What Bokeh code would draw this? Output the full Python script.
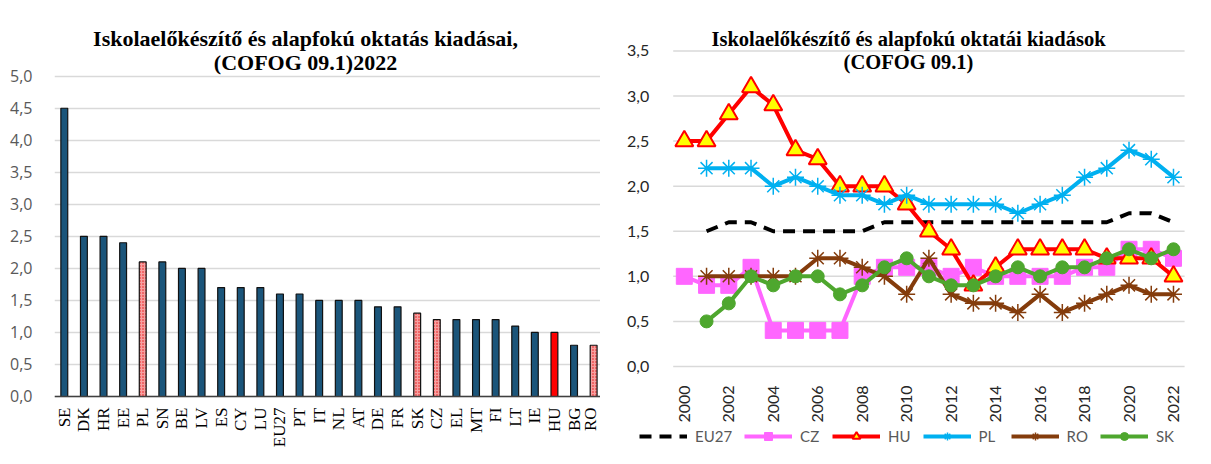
import math
from bokeh.plotting import figure
from bokeh.layouts import row
from bokeh.models import (ColumnDataSource, Range1d, FixedTicker, CustomJSTickFormatter,
                          Label, Legend, LegendItem)
from bokeh.embed import file_html
from bokeh.resources import INLINE

nan = float("nan")

# ---------------- data: left chart (2022) ----------------
countries = ["SE", "DK", "HR", "EE", "PL", "SN", "BE", "LV", "ES", "CY", "LU", "EU27", "PT", "IT",
             "NL", "AT", "DE", "FR", "SK", "CZ", "EL", "MT", "FI", "LT", "IE", "HU", "BG", "RO"]
spending_2022 = [4.5, 2.5, 2.5, 2.4, 2.1, 2.1, 2.0, 2.0, 1.7, 1.7, 1.7, 1.6, 1.6, 1.5,
                 1.5, 1.5, 1.4, 1.4, 1.3, 1.2, 1.2, 1.2, 1.2, 1.1, 1.0, 1.0, 0.8, 0.8]
patterned = ["PL", "SK", "CZ", "RO"]
highlighted = ["HU"]
left_ticks = [0.0, 0.5, 1.0, 1.5, 2.0, 2.5, 3.0, 3.5, 4.0, 4.5, 5.0]

# ---------------- data: right chart (time series) ----------------
years = list(range(2000, 2023))
eu27 = [nan, 1.5, 1.6, 1.6, 1.5, 1.5, 1.5, 1.5, 1.5, 1.6, 1.6, 1.6, 1.6, 1.6, 1.6, 1.6, 1.6, 1.6, 1.6, 1.6, 1.7, 1.7, 1.6]
cz = [1.0, 0.9, 0.9, 1.1, 0.4, 0.4, 0.4, 0.4, 1.0, 1.1, 1.1, 1.1, 1.0, 1.1, 1.0, 1.0, 1.0, 1.0, 1.1, 1.1, 1.3, 1.3, 1.2]
hu = [2.5, 2.5, 2.8, 3.1, 2.9, 2.4, 2.3, 2.0, 2.0, 2.0, 1.8, 1.5, 1.3, 0.9, 1.1, 1.3, 1.3, 1.3, 1.3, 1.2, 1.2, 1.2, 1.0]
pl = [nan, 2.2, 2.2, 2.2, 2.0, 2.1, 2.0, 1.9, 1.9, 1.8, 1.9, 1.8, 1.8, 1.8, 1.8, 1.7, 1.8, 1.9, 2.1, 2.2, 2.4, 2.3, 2.1]
ro = [nan, 1.0, 1.0, 1.0, 1.0, 1.0, 1.2, 1.2, 1.1, 1.0, 0.8, 1.2, 0.8, 0.7, 0.7, 0.6, 0.8, 0.6, 0.7, 0.8, 0.9, 0.8, 0.8]
sk = [nan, 0.5, 0.7, 1.0, 0.9, 1.0, 1.0, 0.8, 0.9, 1.1, 1.2, 1.0, 0.9, 0.9, 1.0, 1.1, 1.0, 1.1, 1.1, 1.2, 1.3, 1.2, 1.3]
year_ticks = list(range(2000, 2023, 2))
right_ticks = [0.0, 0.5, 1.0, 1.5, 2.0, 2.5, 3.0, 3.5]

comma_fmt = CustomJSTickFormatter(code="return tick.toFixed(1).replace('.', ',');")
H = 448

# ================= LEFT FIGURE =================
# frame spans the full height; x axis is pinned at y = 0
p1 = figure(width=600, height=H, output_backend="svg", toolbar_location=None,
            x_range=Range1d(-0.5, 27.35), y_range=Range1d(-0.812, 6.182),
            min_border_left=54, min_border_right=0, min_border_top=0, min_border_bottom=0)
p1.outline_line_color = None
p1.background_fill_color = "white"
p1.border_fill_color = "white"

idx = list(range(len(countries)))
plain_x = [i for i, c in zip(idx, countries) if c not in patterned and c not in highlighted]
plain_y = [v for v, c in zip(spending_2022, countries) if c not in patterned and c not in highlighted]
pat_x = [i for i, c in zip(idx, countries) if c in patterned]
pat_y = [v for v, c in zip(spending_2022, countries) if c in patterned]
hi_x = [i for i, c in zip(idx, countries) if c in highlighted]
hi_y = [v for v, c in zip(spending_2022, countries) if c in highlighted]

p1.vbar(x=plain_x, top=plain_y, width=0.35, fill_color="#1B557A", line_color="#111111", line_width=1.2)
p1.vbar(x=pat_x, top=pat_y, width=0.35, fill_color="#F6A0A0", line_color="#111111", line_width=1.2,
        hatch_pattern="dot", hatch_color="#E81010", hatch_scale=3, hatch_weight=1.5)
p1.vbar(x=hi_x, top=hi_y, width=0.35, fill_color="#FF0000", line_color="#111111", line_width=1.2)

p1.xaxis.fixed_location = 0
p1.xaxis.ticker = FixedTicker(ticks=idx)
p1.xaxis.major_label_overrides = {i: c for i, c in zip(idx, countries)}
p1.xaxis.major_label_orientation = math.pi / 2
p1.xaxis.major_label_text_font = "Liberation Serif"
p1.xaxis.major_label_text_font_size = "17px"
p1.xaxis.major_label_text_color = "#000000"
p1.xaxis.major_tick_line_color = None
p1.xaxis.minor_tick_line_color = None
p1.xaxis.axis_line_color = "#404040"
p1.xaxis.axis_line_width = 1.5
p1.xaxis.major_label_standoff = 5
p1.xgrid.grid_line_color = None

p1.yaxis.ticker = FixedTicker(ticks=left_ticks)
p1.yaxis.formatter = comma_fmt
p1.yaxis.axis_line_color = None
p1.yaxis.major_tick_line_color = None
p1.yaxis.minor_tick_line_color = None
p1.yaxis.major_label_text_font = "Open Sans"
p1.yaxis.major_label_text_font_size = "16px"
p1.yaxis.major_label_text_color = "#595959"
p1.yaxis.major_label_standoff = 16
p1.ygrid.grid_line_color = "#D9D9D9"
p1.ygrid.grid_line_width = 1.5

for txt, yy in [("Iskolaelőkészítő és alapfokú oktatás kiadásai,", H - 38), ("(COFOG 09.1)2022", H - 62)]:
    p1.add_layout(Label(x=251, y=yy, x_units="screen", y_units="screen", text=txt,
                        text_align="center", text_baseline="middle", text_font="Liberation Serif",
                        text_font_style="bold", text_font_size="22px", text_color="#000000"))

# ================= RIGHT FIGURE =================
# frame spans the whole figure; y axis pinned just left of 2000, x axis pinned at y = 0
x0 = years[0] - 0.5
x1 = years[-1] + 0.5
p2 = figure(width=585, height=H, output_backend="svg", toolbar_location=None,
            x_range=Range1d(years[0] - 3.23, years[-1] + 0.99), y_range=Range1d(-0.910, 4.06),
            min_border_left=2, min_border_right=0, min_border_top=0, min_border_bottom=0)
p2.outline_line_color = None
p2.background_fill_color = "white"
p2.border_fill_color = "white"
p2.xgrid.grid_line_color = None
p2.ygrid.grid_line_color = None

# horizontal gridlines limited to the category span
p2.segment(x0=[x0] * len(right_ticks), x1=[x1] * len(right_ticks), y0=right_ticks, y1=right_ticks,
           line_color="#D9D9D9", line_width=1.5)

src = ColumnDataSource(dict(year=years, eu27=eu27, cz=cz, hu=hu, pl=pl, ro=ro, sk=sk))

r_eu = p2.line("year", "eu27", source=src, line_color="black", line_width=4, line_dash="12 8")
r_cz_l = p2.line("year", "cz", source=src, line_color="#FF66FF", line_width=4)
r_cz_m = p2.scatter("year", "cz", source=src, marker="square", size=16, fill_color="#FF66FF", line_color="#FF66FF")
r_hu_l = p2.line("year", "hu", source=src, line_color="#FF0000", line_width=4)
r_hu_m = p2.scatter("year", "hu", source=src, marker="triangle", size=18, fill_color="#FFFF00",
                    line_color="#FF0000", line_width=2)
r_pl_l = p2.line("year", "pl", source=src, line_color="#00B0F0", line_width=4)
r_pl_m = p2.scatter("year", "pl", source=src, marker="asterisk", size=17, line_color="#00B0F0", line_width=1.5)
r_ro_l = p2.line("year", "ro", source=src, line_color="#843C0C", line_width=4)
r_ro_m = p2.scatter("year", "ro", source=src, marker="asterisk", size=17, line_color="#843C0C", line_width=1.5)
r_sk_l = p2.line("year", "sk", source=src, line_color="#4EA72E", line_width=4)
r_sk_m = p2.scatter("year", "sk", source=src, marker="circle", size=13, fill_color="#4EA72E", line_color="#4EA72E")

p2.xaxis.fixed_location = 0
p2.xaxis.ticker = FixedTicker(ticks=year_ticks)
p2.xaxis.major_label_orientation = math.pi / 2
p2.xaxis.major_label_text_font = "Lato"
p2.xaxis.major_label_text_font_size = "16px"
p2.xaxis.major_label_text_color = "#262626"
p2.xaxis.major_tick_line_color = None
p2.xaxis.minor_tick_line_color = None
p2.xaxis.axis_line_color = None
p2.xaxis.major_label_standoff = 13

p2.yaxis.fixed_location = x0
p2.yaxis.ticker = FixedTicker(ticks=right_ticks)
p2.yaxis.formatter = comma_fmt
p2.yaxis.axis_line_color = None
p2.yaxis.major_tick_line_color = None
p2.yaxis.minor_tick_line_color = None
p2.yaxis.major_label_text_font = "Lato"
p2.yaxis.major_label_text_font_size = "16px"
p2.yaxis.major_label_text_color = "#262626"
p2.yaxis.major_label_standoff = 18

for txt, yy in [("Iskolaelőkészítő és alapfokú oktatái kiadások", H - 38), ("(COFOG 09.1)", H - 61)]:
    p2.add_layout(Label(x=296, y=yy, x_units="screen", y_units="screen", text=txt,
                        text_align="center", text_baseline="middle", text_font="Liberation Serif",
                        text_font_style="bold", text_font_size="20.5px", text_color="#000000"))

legend = Legend(items=[
    LegendItem(label="EU27", renderers=[r_eu]),
    LegendItem(label="CZ", renderers=[r_cz_l, r_cz_m]),
    LegendItem(label="HU", renderers=[r_hu_l, r_hu_m]),
    LegendItem(label="PL", renderers=[r_pl_l, r_pl_m]),
    LegendItem(label="RO", renderers=[r_ro_l, r_ro_m]),
    LegendItem(label="SK", renderers=[r_sk_l, r_sk_m]),
], orientation="horizontal", location=(27, 2))
legend.border_line_color = None
legend.background_fill_alpha = 0
legend.label_text_font = "Lato"
legend.label_text_font_size = "15px"
legend.label_text_color = "#595959"
legend.glyph_width = 48
legend.glyph_height = 20
legend.label_standoff = 8
legend.spacing = 12
legend.padding = 0
legend.margin = 0
p2.add_layout(legend, "center")

layout = row(p1, p2, spacing=10)
open("out.html", "w").write(file_html(layout, INLINE))
